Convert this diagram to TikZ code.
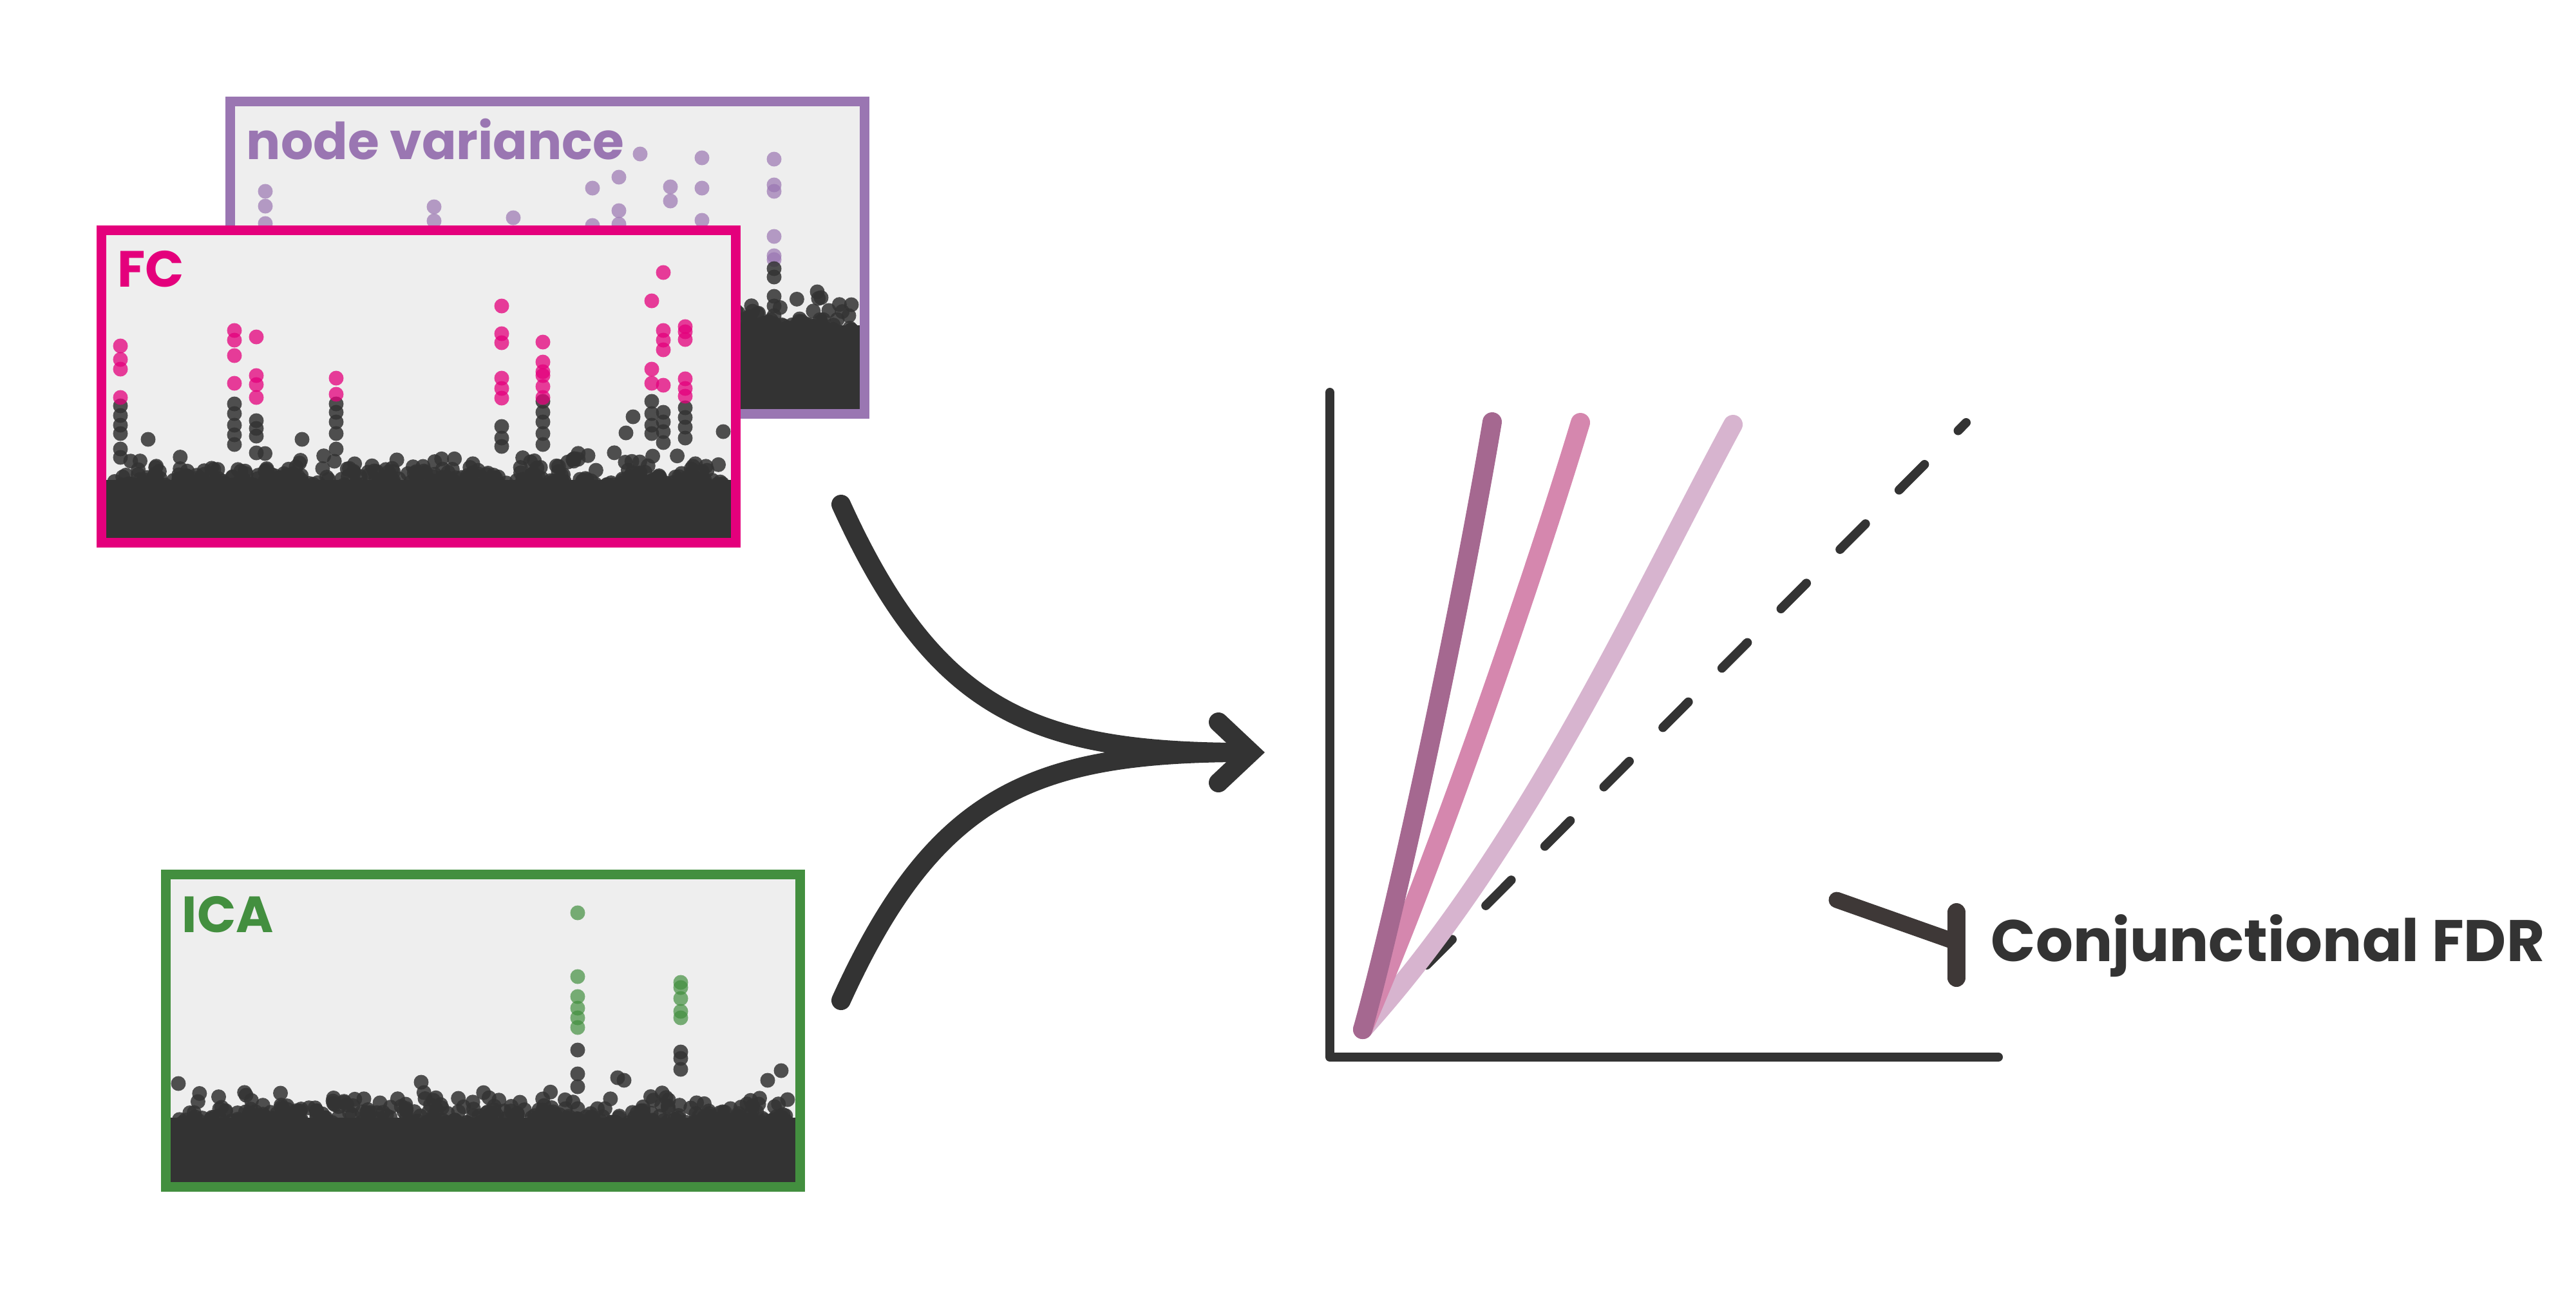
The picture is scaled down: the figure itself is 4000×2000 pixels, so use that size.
\documentclass[tikz,border=0pt]{standalone}
\usepackage{fontspec}
\setmainfont{Poppins}
\usetikzlibrary{positioning}

\definecolor{nvpurple}{HTML}{9A76B2}
\definecolor{fcpink}{HTML}{E4007C}
\definecolor{icagreen}{HTML}{438F3F}
\definecolor{panelbg}{HTML}{EEEEEE}
\definecolor{ink}{HTML}{333333}
\definecolor{fdrdark}{HTML}{A56890}
\definecolor{fdrmid}{HTML}{D587AE}
\definecolor{fdrlight}{HTML}{D7B4CF}
\definecolor{brk}{HTML}{3E3837}

\tikzset{
  panel/.style={draw, fill=panelbg, line width=1.5mm, minimum width=98.5mm,
    minimum height=48.5mm, inner sep=0pt, outer sep=0pt},
  paneltitle/.style={anchor=base west, inner sep=0pt,
    font=\fontsize{22.5}{24}\selectfont\bfseries},
  darkdot/.style={fill=ink, fill opacity=0.85},
  nvdot/.style={fill=nvpurple, fill opacity=0.7},
  fcdot/.style={fill=fcpink, fill opacity=0.75},
  icadot/.style={fill=icagreen, fill opacity=0.7},
  flow/.style={draw=ink, line width=3mm, line cap=round},
  axis/.style={draw=ink, line width=1.4mm, line cap=round, line join=round},
  fdr/.style={line width=3mm, line cap=round},
}

% one column of hits: style, x, list of y
\newcommand\mhcol[3]{\foreach \yy in {#3} \fill[#1] (#2,\yy) circle[radius=1.15mm];}
% the dense band: x1, x2, top, bottom, number of dots
\newcommand\mhband[5]{%
  \fill[ink] (#1,#3) rectangle (#2,#4);
  \foreach \k in {1,...,#5}{%
    \pgfmathsetmacro\bx{#1+12+(#2-#1-24)*rnd}%
    \pgfmathsetmacro\by{#3+8-52*rnd*rnd}%
    \fill[darkdot] (\bx,\by) circle[radius=1.15mm];}%
}

\begin{document}
\begin{tikzpicture}[x=0.1mm, y=-0.1mm]
  \pgfmathsetseed{17}
  \fill[white] (0,0) rectangle (4000,2000);
  \useasboundingbox (0,0) rectangle (4000,2000);

  % node variance panel (behind)
  \node[panel, draw=nvpurple] (nvbox) at (850,400) {};
  \mhband{365}{1335}{505}{635}{320}
  \mhcol{nvdot}{412}{297,320,347}
  \mhcol{nvdot}{674}{321,343}
  \mhcol{nvdot}{797}{338}
  \mhcol{nvdot}{920}{292,350}
  \mhcol{nvdot}{961}{275,327,348}
  \mhcol{nvdot}{994}{239}
  \mhcol{nvdot}{1041}{290,312}
  \mhcol{nvdot}{1090}{245,292,342}
  \mhcol{nvdot}{1202}{247,287,297,367,397,403}
  \mhcol{darkdot}{1202}{417,430,460,475,490}
  \foreach \px/\py in {1269/453,1275/462,1176/487,1186/502,1287/482,1322/473,1318/490}
    \fill[darkdot] (\px,\py) circle[radius=1.15mm];
  \node[paneltitle, text=nvpurple] (nvtitle) at (382,247) {node variance};

  % FC panel
  \node[panel, draw=fcpink] (fcbox) at (650,600) {};
  \mhband{165}{1135}{745}{835}{340}
  \mhcol{darkdot}{187}{630,645,660,673,697,710}
  \mhcol{darkdot}{364}{627,642,660,675,690}
  \mhcol{darkdot}{398}{653,665,677,703}
  \mhcol{darkdot}{522}{627,640,655,673,697}
  \mhcol{darkdot}{779}{662,680,693}
  \mhcol{darkdot}{843}{623,640,655,673,690}
  \mhcol{darkdot}{1012}{623,642,660,673}
  \mhcol{darkdot}{1030}{640,655,670,687}
  \mhcol{darkdot}{1064}{633,648,663,680}
  \foreach \px/\py in {230/682,469/682,983/647,972/672,1123/670}
    \fill[darkdot] (\px,\py) circle[radius=1.15mm];
  \mhcol{fcdot}{187}{537,558,573,617}
  \mhcol{fcdot}{364}{513,528,552,595}
  \mhcol{fcdot}{398}{523,583,597,617}
  \mhcol{fcdot}{522}{587,612}
  \mhcol{fcdot}{779}{475,518,532,587,603,618}
  \mhcol{fcdot}{843}{531,562,577,583,600,617}
  \mhcol{fcdot}{1012}{467,573,595}
  \mhcol{fcdot}{1030}{423,513,528,543,598}
  \mhcol{fcdot}{1064}{507,515,527,588,603,615}
  \node[paneltitle, text=fcpink] (fctitle) at (182,445) {FC};

  % ICA panel
  \node[panel, draw=icagreen] (icabox) at (750,1600) {};
  \mhband{265}{1235}{1735}{1835}{340}
  \mhcol{darkdot}{897}{1630,1667,1687}
  \mhcol{darkdot}{1057}{1633,1643,1660}
  \foreach \px/\py in {277/1682,654/1680,1213/1662,1192/1677,959/1673,969/1677}
    \fill[darkdot] (\px,\py) circle[radius=1.15mm];
  \mhcol{icadot}{897}{1417,1516,1547,1565,1580,1595}
  \mhcol{icadot}{1057}{1525,1533,1550,1570,1580}
  \node[paneltitle, text=icagreen] (icatitle) at (282,1447) {ICA};

  % merging arrow
  \coordinate (fcout) at (1306,783);
  \coordinate (icaout) at (1306,1553);
  \coordinate (merge) at (1915,1168);
  \coordinate (tip) at (1942,1168);
  \coordinate (headup) at (1892,1121);
  \coordinate (headdn) at (1892,1215);
  \draw[flow] (fcout) .. controls (1450,1100) and (1600,1165) .. (merge);
  \draw[flow] (icaout) .. controls (1450,1236) and (1600,1171) .. (merge);
  \draw[flow, line join=miter] (headup) -- (tip) -- (headdn);

  % FDR plot
  \coordinate (yaxtop) at (2065,609);
  \coordinate (orig) at (2065,1641);
  \coordinate (xaxend) at (3103,1641);
  \coordinate (c0) at (2116,1598);
  \coordinate (diagend) at (3053,656);
  \coordinate (enddark) at (2317,655);
  \coordinate (endmid) at (2454,656);
  \coordinate (endlight) at (2691,659);
  \draw[axis] (yaxtop) -- (orig) -- (xaxend);
  \draw[ink, line width=1.4mm, line cap=round, dash pattern=on 5.6mm off 7.4mm, dash phase=11.9mm] (c0) -- (diagend);
  \draw[fdr, fdrlight] (c0) .. controls (2372,1314) and (2541,937) .. (endlight);
  \draw[fdr, fdrmid] (c0) .. controls (2220,1362) and (2374,920) .. (endmid);
  \draw[fdr, fdrdark] (c0) .. controls (2170,1404) and (2267,952) .. (enddark);

  % label
  \coordinate (brkend) at (2852,1397);
  \coordinate (brkjoin) at (3036,1462);
  \coordinate (brktop) at (3038,1416);
  \coordinate (brkbot) at (3038,1518);
  \draw[brk, line width=2.5mm, line cap=round] (brkend) -- (brkjoin);
  \draw[brk, line width=2.8mm, line cap=round] (brktop) -- (brkbot);
  \node[anchor=base west, inner sep=0pt, text=ink,
    font=\fontsize{25.9}{27}\selectfont\bfseries] (fdrlabel) at (3091,1492) {Conjunctional FDR};
\end{tikzpicture}
\end{document}
